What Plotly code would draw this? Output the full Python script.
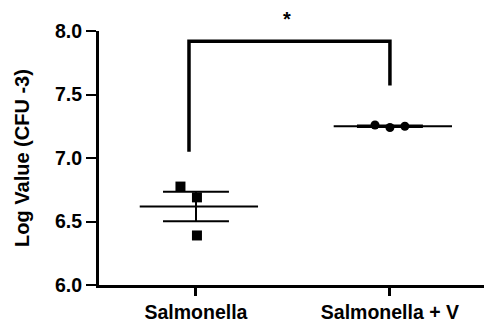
import numpy as np
import plotly.graph_objects as go

categories = ["Salmonella", "Salmonella + V"]
salm_values = [6.775, 6.69, 6.39]
salm_offsets = [-0.08, 0.005, 0.005]
salmv_values = [7.26, 7.24, 7.25]
salmv_offsets = [-0.077, 0.0, 0.077]
y_ticks = [6.0, 6.5, 7.0, 7.5, 8.0]
bracket_x = [-0.036, -0.036, 1.0, 1.0]
bracket_y = [7.05, 7.92, 7.92, 7.57]
star_label = "*"

FONT = "Arial, Liberation Sans, sans-serif"
fig = go.Figure()

def add_group(xc, vals, offs, symbol, size):
    v = np.array(vals)
    m = v.mean()
    sem = v.std(ddof=1) / np.sqrt(len(v))
    fig.add_trace(go.Scatter(x=[xc - 0.29, xc + 0.32], y=[m, m], mode="lines",
                             line=dict(color="black", width=2), showlegend=False, hoverinfo="skip"))
    fig.add_trace(go.Scatter(x=[xc, xc, None, xc - 0.17, xc + 0.17, None, xc - 0.17, xc + 0.17],
                             y=[m - sem, m + sem, None, m + sem, m + sem, None, m - sem, m - sem],
                             mode="lines", line=dict(color="black", width=2),
                             showlegend=False, hoverinfo="skip"))
    fig.add_trace(go.Scatter(x=[xc + o for o in offs], y=vals, mode="markers",
                             marker=dict(symbol=symbol, size=size, color="black"),
                             showlegend=False))

add_group(0, salm_values, salm_offsets, "square", 10)
add_group(1, salmv_values, salmv_offsets, "circle", 9)

fig.add_trace(go.Scatter(x=bracket_x, y=bracket_y, mode="lines",
                         line=dict(color="black", width=3.5), showlegend=False,
                         hoverinfo="skip", cliponaxis=False))
fig.add_annotation(x=0.47, y=1.047, text="<b>" + star_label + "</b>", showarrow=False,
                   font=dict(family=FONT, size=20, color="black"), xref="x", yref="paper",
                   yanchor="middle")

fig.update_layout(
    width=484, height=323,
    margin=dict(l=99, r=0, t=31, b=34),
    paper_bgcolor="white", plot_bgcolor="white",
    font=dict(family=FONT, color="black"),
)
fig.update_xaxes(range=[-0.5, 1.485], tickvals=[0, 1], ticktext=[f"<b>{c}</b>" for c in categories],
                 showline=True, linewidth=3, linecolor="black", ticks="outside", ticklen=8,
                 tickwidth=3, tickcolor="black", showgrid=False, zeroline=False,
                 tickfont=dict(family=FONT, size=19.5, color="black"))
fig.update_yaxes(range=[6, 8], tickvals=y_ticks, ticktext=[f"<b>{t:.1f}</b>" for t in y_ticks],
                 showline=True, linewidth=3, linecolor="black", ticks="outside", ticklen=10,
                 tickwidth=2, tickcolor="black", showgrid=False, zeroline=False,
                 tickfont=dict(family=FONT, size=19.5, color="black"),
                 title=dict(text="<b>Log Value (CFU -3)</b>", font=dict(family=FONT, size=20, color="black"),
                            standoff=20))

fig.write_html("out.html", config={"displayModeBar": False},
               post_script="document.body.style.margin='0';document.body.style.overflow='hidden';")
